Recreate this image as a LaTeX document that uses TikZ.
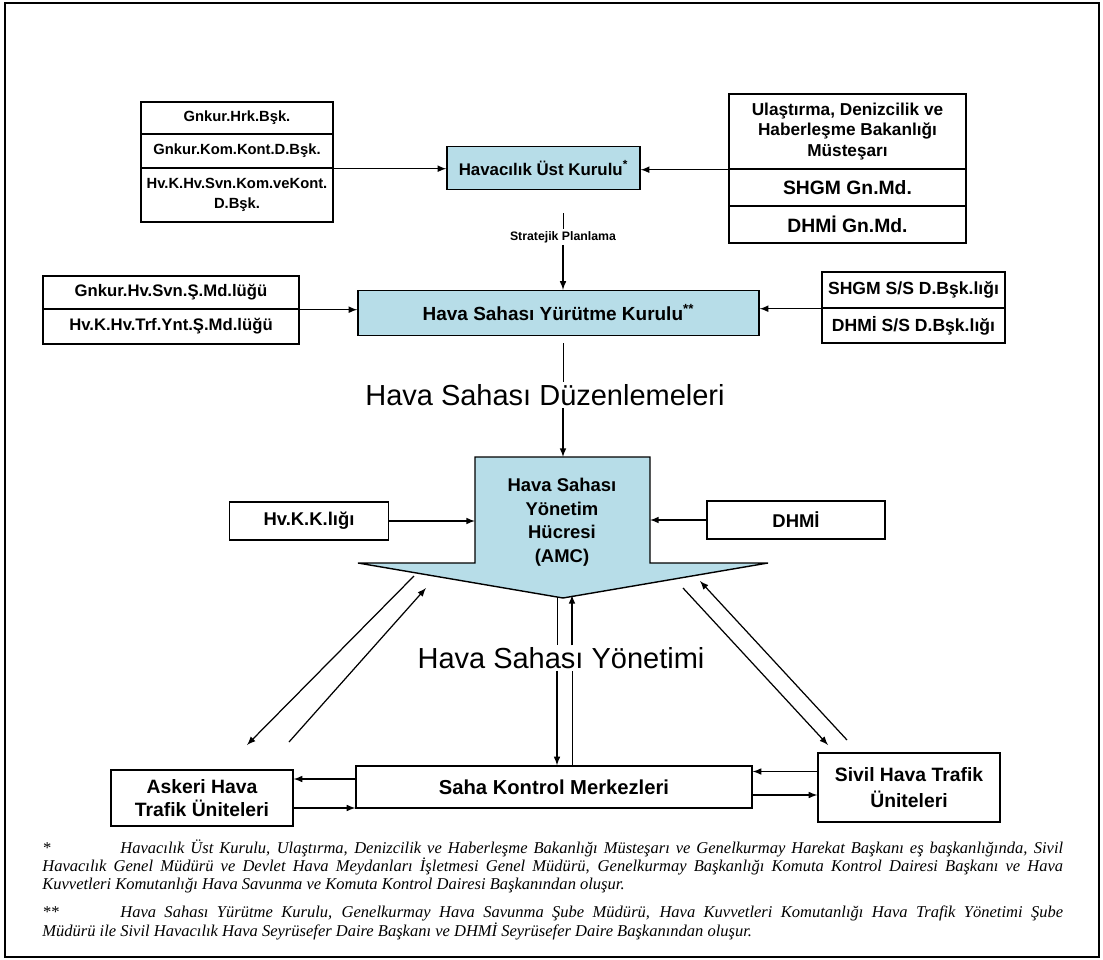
\documentclass[tikz,border=0pt]{standalone}
\usepackage{fontspec}
\setmainfont{Liberation Sans}
\newfontfamily\notefont{Liberation Serif}
\definecolor{boxblue}{RGB}{183,221,232}
\tikzset{
  box/.style={draw, line width=0.8pt, fill=white, inner sep=0pt, align=center},
  hbox/.style={box, fill=boxblue},
  arr/.style={-latex, line width=0.7pt},
  lbl/.style={inner sep=1pt, font=\fontsize{16.5}{19}\selectfont},
  note/.style={anchor=north west, inner sep=0pt, text width=20.42cm, align=justify,
    font=\notefont\itshape\fontsize{9.4}{9.7}\selectfont},
}
\begin{document}
\begin{tikzpicture}[x=0.02cm,y=-0.02cm]
\useasboundingbox (0,0) rectangle (1103,960);
\draw [line width=1.2pt] (5,3) rectangle (1099,957);
% upper level
\node [box, minimum width=3.84cm, minimum height=0.64cm, font=\bfseries\fontsize{8.4}{9.6}\selectfont] (gnHrk) at (237,118) {Gnkur.Hrk.Bşk.};
\node [box, minimum width=3.84cm, minimum height=0.68cm, font=\bfseries\fontsize{8.4}{9.6}\selectfont] (gnKom) at (237,151) {Gnkur.Kom.Kont.D.Bşk.};
\node [box, minimum width=3.84cm, minimum height=1.08cm, font=\bfseries\fontsize{8.4}{11}\selectfont] (hvKom) at (237,195) {Hv.K.Hv.Svn.Kom.veKont.\\D.Bşk.};
\node [hbox, minimum width=3.86cm, minimum height=0.86cm, font=\bfseries\fontsize{9.6}{12}\selectfont] (huk) at (543.5,168) {Havacılık Üst Kurulu\textsuperscript{*}};
\node [box, minimum width=4.74cm, minimum height=1.5cm, font=\bfseries\fontsize{9.8}{11.7}\selectfont] (ulMst) at (847.5,131.5) {Ulaştırma, Denizcilik ve\\Haberleşme Bakanlığı\\Müsteşarı};
\node [box, minimum width=4.74cm, minimum height=0.74cm, font=\bfseries\fontsize{11}{13}\selectfont] (shgmGn) at (847.5,187.5) {SHGM Gn.Md.};
\node [box, minimum width=4.74cm, minimum height=0.74cm, font=\bfseries\fontsize{11}{13}\selectfont] (dhmiGn) at (847.5,224.5) {DHMİ Gn.Md.};
\draw [arr] (gnKom.south east) -- (gnKom.south east -| huk.west);
\draw [arr] (ulMst.south west) -- (ulMst.south west -| huk.east);
\coordinate (strTop) at (563,213);
\node [inner sep=1pt, font=\bfseries\fontsize{7}{8}\selectfont] (strLbl) at (563,237) {Stratejik Planlama};
% second level
\node [box, minimum width=5.12cm, minimum height=0.66cm, font=\bfseries\fontsize{9.5}{11}\selectfont] (gnSvn) at (171,292.5) {Gnkur.Hv.Svn.Ş.Md.lüğü};
\node [box, minimum width=5.12cm, minimum height=0.7cm, font=\bfseries\fontsize{9.5}{11}\selectfont] (hvTrf) at (171,326.5) {Hv.K.Hv.Trf.Ynt.Ş.Md.lüğü};
\node [hbox, minimum width=8.02cm, minimum height=0.9cm, font=\bfseries\fontsize{10.8}{12}\selectfont] (ysk) at (558.5,313) {Hava Sahası Yürütme Kurulu\textsuperscript{**}};
\node [box, minimum width=3.66cm, minimum height=0.72cm, font=\bfseries\fontsize{10}{12}\selectfont] (shgmSS) at (913.5,290) {SHGM S/S D.Bşk.lığı};
\node [box, minimum width=3.66cm, minimum height=0.7cm, font=\bfseries\fontsize{10}{12}\selectfont] (dhmiSS) at (913.5,325.5) {DHMİ S/S D.Bşk.lığı};
\draw (strTop) -- (strLbl.north);
\draw [arr] (strLbl.south) -- (strLbl.south |- ysk.north);
\draw [arr] (gnSvn.south east) -- (gnSvn.south east -| ysk.west);
\draw [arr] (shgmSS.south west) -- (shgmSS.south west -| ysk.east);
\node [lbl] (dzLbl) at (545,395) {Hava Sahası Düzenlemeleri};
\coordinate (dzTop) at (563,343);
% AMC
\filldraw [fill=boxblue, line width=0.8pt] (475,457) -- (650,457) -- (650,563) -- (768,563) -- (563,598) -- (358,563) -- (475,563) -- cycle;
\coordinate (amcTop) at (563,457);
\coordinate (amcL) at (475,521);
\coordinate (amcR) at (650,520);
\node [align=center, inner sep=0pt, font=\bfseries\fontsize{10.5}{13.4}\selectfont] (amc) at (562,522) {Hava Sahası\\Yönetim\\Hücresi\\(AMC)};
\node [box, minimum width=3.18cm, minimum height=0.76cm, font=\bfseries\fontsize{10.5}{12}\selectfont] (hvkk) at (309,521) {Hv.K.K.lığı};
\node [box, minimum width=3.56cm, minimum height=0.76cm, font=\bfseries\fontsize{10.5}{12}\selectfont] (dhmi) at (796,520) {DHMİ};
\draw (dzTop) -- (dzTop |- dzLbl.north);
\draw [arr] (dzTop |- dzLbl.south) -- (amcTop);
\draw [arr] (hvkk.east) -- (amcL);
\draw [arr] (dhmi.west) -- (amcR);
% lower level
\node [box, minimum width=3.64cm, minimum height=1.12cm, font=\bfseries\fontsize{11}{13.4}\selectfont] (ask) at (202,798) {Askeri Hava\\Trafik Üniteleri};
\node [box, minimum width=7.92cm, minimum height=0.84cm, font=\bfseries\fontsize{11.5}{13.7}\selectfont] (saha) at (554,787) {Saha Kontrol Merkezleri};
\node [box, minimum width=3.64cm, minimum height=1.38cm, font=\bfseries\fontsize{11}{15}\selectfont] (siv) at (909,787.5) {Sivil Hava Trafik\\Üniteleri};
\node [lbl] (ysLbl) at (561,658) {Hava Sahası Yönetimi};
\coordinate (askUp) at (426,588);
\coordinate (askDn) at (414,576);
\coordinate (askA) at (247,745);
\coordinate (askB) at (289,742);
\coordinate (sivDn) at (683,588);
\coordinate (sivUp) at (700,581);
\coordinate (sivA) at (828,745);
\coordinate (sivB) at (847,740);
\draw [arr] (askDn) -- (askA);
\draw [arr] (askB) -- (askUp);
\draw [arr] (sivDn) -- (sivA);
\draw [arr] (sivB) -- (sivUp);
\coordinate (tipL) at (557,597);
\coordinate (tipR) at (572,595);
\draw (tipL) -- (tipL |- ysLbl.north);
\draw [arr] (tipL |- ysLbl.south) -- (tipL |- saha.north);
\draw (tipR |- saha.north) -- (tipR |- ysLbl.south);
\draw [arr] (tipR |- ysLbl.north) -- (tipR);
\draw [arr] ([yshift=0.16cm]saha.west) -- ([yshift=0.16cm]saha.west -| ask.east);
\draw [arr] ([yshift=-0.2cm]ask.east) -- ([yshift=-0.2cm]ask.east -| saha.west);
\draw [arr] ([yshift=0.32cm]siv.west) -- ([yshift=0.32cm]siv.west -| saha.east);
\draw [arr] ([yshift=-0.16cm]saha.east) -- ([yshift=-0.16cm]saha.east -| siv.west);
% notes
\node [note] (noteA) at (42,839) {\makebox[1.56cm][l]{*}Havacılık Üst Kurulu, Ulaştırma, Denizcilik ve Haberleşme Bakanlığı Müsteşarı ve Genelkurmay Harekat Başkanı eş başkanlığında, Sivil\linebreak Havacılık Genel Müdürü ve Devlet Hava Meydanları İşletmesi Genel Müdürü, Genelkurmay Başkanlığı Komuta Kontrol Dairesi Başkanı ve Hava\linebreak Kuvvetleri Komutanlığı Hava Savunma ve Komuta Kontrol Dairesi Başkanından oluşur.};
\node [note] (noteB) at (42,906) {\makebox[1.56cm][l]{**}Hava Sahası Yürütme Kurulu, Genelkurmay Hava Savunma Şube Müdürü, Hava Kuvvetleri Komutanlığı Hava Trafik Yönetimi Şube\linebreak Müdürü ile Sivil Havacılık Hava Seyrüsefer Daire Başkanı ve DHMİ Seyrüsefer Daire Başkanından oluşur.};
\end{tikzpicture}
\end{document}
